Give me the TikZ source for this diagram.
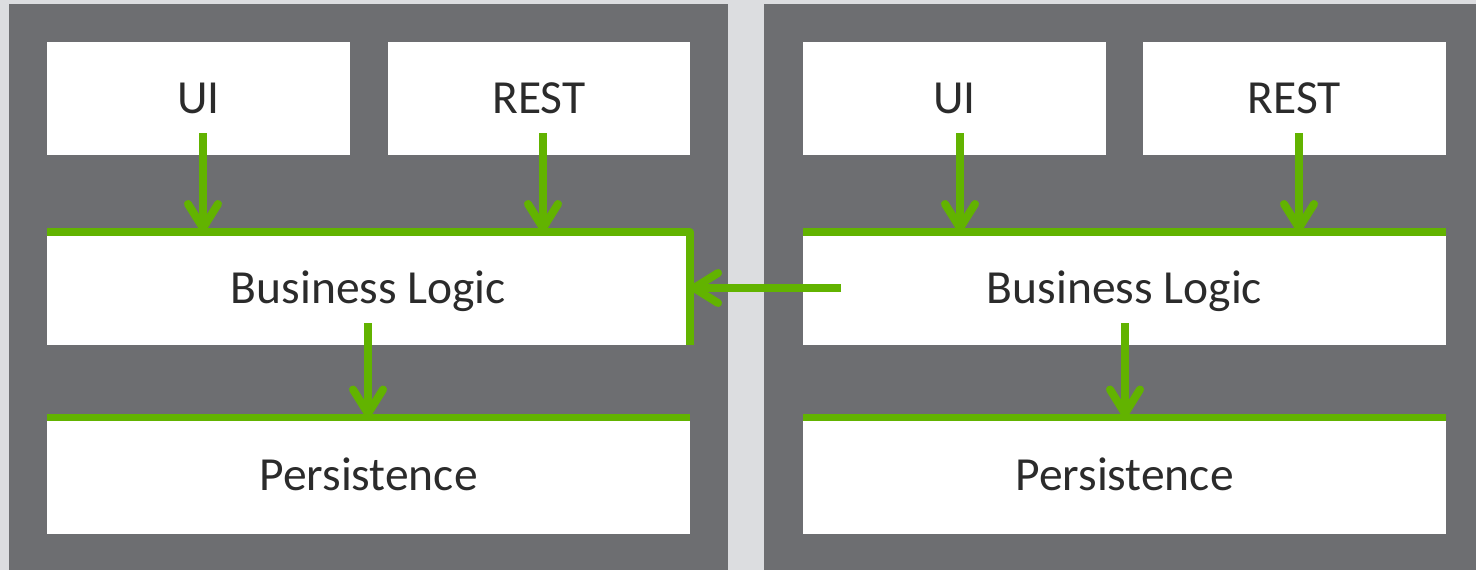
\documentclass[tikz,border=0pt]{standalone}
\usepackage{fontspec}
\setmainfont{Carlito}
\usetikzlibrary{arrows.meta}
\definecolor{bggray}{HTML}{DCDDE0}
\definecolor{panelgray}{HTML}{6D6E71}
\definecolor{lgreen}{HTML}{62B300}
\definecolor{txt}{HTML}{2B2B2B}
\tikzset{
  panel/.style={fill=panelgray, draw=none},
  box/.style={fill=white, draw=none, inner sep=0pt, outer sep=0pt, text=txt,
    text height=30.5pt, text depth=0pt,
    font=\fontsize{47.5}{56}\selectfont},
  gline/.style={draw=lgreen, line width=7.5pt, line cap=butt},
  arr/.style={draw=lgreen, line width=8pt, -{Straight Barb[length=24pt,width=30pt,round]}},
}
\begin{document}
\begin{tikzpicture}[x=1pt,y=-1pt]
\useasboundingbox (0,0) rectangle (1476,570);
\fill[bggray] (0,0) rectangle (1476,570);
% panels
\path[panel] (9,4) rectangle (728,570);
\path[panel] (764,4) rectangle (1476,570);
% left side boxes
\node[box, minimum width=303pt, minimum height=113pt] (ui1) at (198.5,98.5) {UI};
\node[box, minimum width=302pt, minimum height=113pt] (rest1) at (539,98.5) {REST};
\node[box, minimum width=643pt, minimum height=113pt] (bl1) at (368.5,288.5) {Business Logic};
\node[box, minimum width=643pt, minimum height=116pt] (pe1) at (368.5,475.5) {Persistence};
% right side boxes
\node[box, minimum width=303pt, minimum height=113pt] (ui2) at (954.5,98.5) {UI};
\node[box, minimum width=303pt, minimum height=113pt] (rest2) at (1294.5,98.5) {REST};
\node[box, minimum width=643pt, minimum height=113pt] (bl2) at (1124.5,288.5) {Business Logic};
\node[box, minimum width=643pt, minimum height=116pt] (pe2) at (1124.5,475.5) {Persistence};
% green borders
\draw[gline, line join=round] (bl1.north west) -- (bl1.north east) -- (bl1.south east);
\draw[gline] (bl2.north west) -- (bl2.north east);
\draw[gline] (pe1.north west) -- (pe1.north east);
\draw[gline] (pe2.north west) -- (pe2.north east);
% arrow start points
\coordinate (s1) at (203,133);
\coordinate (s2) at (543,133);
\coordinate (s3) at (368,323);
\coordinate (s4) at (960,133);
\coordinate (s5) at (1299,133);
\coordinate (s6) at (1125,323);
\coordinate (s7) at (841,288);
% arrows
\draw[arr] (s1) -- (s1 |- bl1.north);
\draw[arr] (s2) -- (s2 |- bl1.north);
\draw[arr] (s3) -- (s3 |- pe1.north);
\draw[arr] (s4) -- (s4 |- bl2.north);
\draw[arr] (s5) -- (s5 |- bl2.north);
\draw[arr] (s6) -- (s6 |- pe2.north);
\draw[arr] (s7) -- (s7 -| bl1.east);
\end{tikzpicture}
\end{document}
